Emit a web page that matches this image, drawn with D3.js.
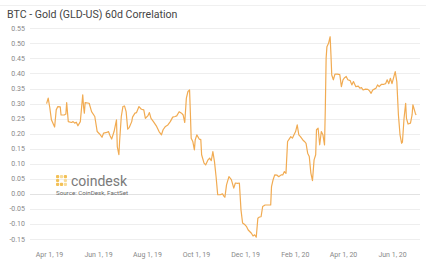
<!DOCTYPE html>
<html>
<head>
<meta charset="utf-8">
<script src="https://cdn.jsdelivr.net/npm/d3@7"></script>
<style>
  body { margin: 0; background: #fff; }
  text { font-family: Roboto, "Open Sans", sans-serif; }
</style>
</head>
<body>
<svg id="chart" width="426" height="259"></svg>
<script>
// 60 day correlation
var dates = [
  "2019-03-29","2019-03-31","2019-04-02","2019-04-04","2019-04-08","2019-04-10","2019-04-12","2019-04-15",
  "2019-04-16","2019-04-20","2019-04-22","2019-04-23","2019-04-25","2019-04-29","2019-05-01","2019-05-03",
  "2019-05-05","2019-05-07","2019-05-10","2019-05-13","2019-05-14","2019-05-15","2019-05-16","2019-05-21",
  "2019-05-24","2019-05-28","2019-05-31","2019-06-03","2019-06-06","2019-06-08","2019-06-12","2019-06-14",
  "2019-06-16","2019-06-18","2019-06-21","2019-06-24","2019-06-25","2019-06-27","2019-06-28","2019-06-30",
  "2019-07-02","2019-07-04","2019-07-06","2019-07-08","2019-07-10","2019-07-13","2019-07-14","2019-07-17",
  "2019-07-19","2019-07-22","2019-07-25","2019-07-28","2019-07-30","2019-08-02","2019-08-04","2019-08-06",
  "2019-08-09","2019-08-13","2019-08-16","2019-08-19","2019-08-21","2019-08-24","2019-08-27","2019-08-30",
  "2019-09-02","2019-09-05","2019-09-07","2019-09-10","2019-09-13","2019-09-15","2019-09-17","2019-09-19",
  "2019-09-21","2019-09-23","2019-09-24","2019-09-25","2019-09-27","2019-09-29","2019-09-30","2019-10-02",
  "2019-10-05","2019-10-07","2019-10-08","2019-10-11","2019-10-13","2019-10-16","2019-10-18","2019-10-20",
  "2019-10-22","2019-10-24","2019-10-26","2019-10-28","2019-10-31","2019-11-03","2019-11-05","2019-11-06",
  "2019-11-08","2019-11-11","2019-11-14","2019-11-17","2019-11-19","2019-11-22","2019-11-24","2019-11-26",
  "2019-11-28","2019-12-01","2019-12-03","2019-12-05","2019-12-09","2019-12-11","2019-12-13","2019-12-15",
  "2019-12-17","2019-12-19","2019-12-21","2019-12-23","2019-12-26","2019-12-30","2020-01-02","2020-01-03",
  "2020-01-05","2020-01-07","2020-01-10","2020-01-12","2020-01-15","2020-01-17","2020-01-19","2020-01-21",
  "2020-01-23","2020-01-25","2020-01-27","2020-01-29","2020-01-31","2020-02-02","2020-02-04","2020-02-06",
  "2020-02-08","2020-02-11","2020-02-13","2020-02-15","2020-02-17","2020-02-19","2020-02-21","2020-02-23",
  "2020-02-25","2020-02-27","2020-02-28","2020-03-01","2020-03-03","2020-03-05","2020-03-07","2020-03-09",
  "2020-03-10","2020-03-11","2020-03-12","2020-03-14","2020-03-16","2020-03-17","2020-03-18","2020-03-20",
  "2020-03-22","2020-03-25","2020-03-28","2020-03-30","2020-04-01","2020-04-03","2020-04-05","2020-04-07",
  "2020-04-10","2020-04-12","2020-04-14","2020-04-17","2020-04-20","2020-04-22","2020-04-24","2020-04-26",
  "2020-04-29","2020-05-02","2020-05-04","2020-05-06","2020-05-08","2020-05-10","2020-05-12","2020-05-14",
  "2020-05-16","2020-05-19","2020-05-22","2020-05-24","2020-05-26","2020-05-28","2020-05-30","2020-06-01",
  "2020-06-05","2020-06-07","2020-06-09","2020-06-11","2020-06-13","2020-06-14","2020-06-16","2020-06-18",
  "2020-06-19","2020-06-21","2020-06-24","2020-06-26","2020-06-27","2020-06-30","2020-07-01"
];
var corr = [
  0.300,0.318,0.286,0.246,0.222,0.279,0.290,0.289,
  0.262,0.262,0.265,0.303,0.240,0.237,0.240,0.235,
  0.238,0.226,0.240,0.329,0.290,0.268,0.303,0.301,
  0.273,0.257,0.207,0.199,0.188,0.202,0.204,0.207,
  0.193,0.182,0.207,0.246,0.157,0.130,0.179,0.257,
  0.290,0.292,0.273,0.215,0.221,0.240,0.255,0.268,
  0.270,0.290,0.281,0.279,0.251,0.259,0.270,0.251,
  0.240,0.224,0.207,0.196,0.213,0.224,0.229,0.240,
  0.255,0.257,0.259,0.273,0.268,0.262,0.237,0.318,
  0.340,0.345,0.268,0.185,0.174,0.146,0.179,0.196,
  0.182,0.180,0.130,0.102,0.096,0.113,0.119,0.110,
  0.140,0.107,0.057,-0.003,-0.003,0.000,-0.009,-0.011,
  0.030,0.057,0.047,0.019,0.036,0.035,0.036,-0.053,
  -0.097,-0.103,-0.109,-0.120,-0.131,-0.140,-0.136,-0.144,
  -0.081,-0.077,-0.076,-0.042,-0.037,-0.037,-0.037,0.024,
  0.047,0.063,0.062,0.057,0.063,0.063,0.074,0.068,
  0.174,0.182,0.190,0.185,0.196,0.207,0.229,0.196,
  0.190,0.179,0.174,0.168,0.135,0.124,0.069,0.044,
  0.113,0.130,0.213,0.218,0.163,0.207,0.196,0.163,
  0.285,0.451,0.489,0.500,0.522,0.462,0.395,0.379,
  0.398,0.398,0.396,0.356,0.379,0.386,0.390,0.379,
  0.376,0.362,0.373,0.356,0.358,0.351,0.353,0.345,
  0.348,0.347,0.342,0.334,0.345,0.348,0.351,0.362,
  0.356,0.364,0.364,0.366,0.379,0.366,0.384,0.366,
  0.406,0.373,0.262,0.196,0.168,0.172,0.251,0.301,
  0.251,0.232,0.235,0.262,0.296,0.268,0.262
];
var xTickDates = ["2019-04-01","2019-06-01","2019-08-01","2019-10-01","2019-12-01","2020-02-01","2020-04-01","2020-06-01"];
var yTicks = [-0.15,-0.10,-0.05,0.00,0.05,0.10,0.15,0.20,0.25,0.30,0.35,0.40,0.45,0.50,0.55];

var parse = d3.timeParse("%Y-%m-%d");
var data = dates.map(function(d, i) { return { date: parse(d), v: corr[i] }; });

var svg = d3.select("#chart");
var left = 30, right = 420;

var x = d3.scaleTime()
    .domain([parse("2019-04-01"), parse("2020-06-01")])
    .range([49, 392]);
var y = d3.scaleLinear().domain([-0.15, 0.55]).range([239, 28.3]);

// faint top rule
svg.append("line")
   .attr("x1", 0).attr("x2", 426).attr("y1", 5.5).attr("y2", 5.5)
   .attr("stroke", "#f0f0f0");

svg.append("text")
   .attr("x", 7).attr("y", 18)
   .attr("font-size", "10.6px")
   .attr("fill", "#444")
   .text("BTC - Gold (GLD-US) 60d Correlation");

// gridlines + y labels
var gy = svg.append("g");
gy.selectAll("line").data(yTicks).enter().append("line")
  .attr("x1", left).attr("x2", right)
  .attr("y1", function(d) { return Math.round(y(d)) + 0.5; })
  .attr("y2", function(d) { return Math.round(y(d)) + 0.5; })
  .attr("stroke", function(d) { return d === 0 ? "#e2e2e2" : "#eeeeee"; });
gy.selectAll("text").data(yTicks).enter().append("text")
  .attr("x", 25).attr("y", function(d) { return y(d) + 2.5; })
  .attr("text-anchor", "end")
  .attr("font-size", "7px")
  .attr("fill", "#888")
  .text(function(d) { return d.toFixed(2); });

// x axis labels
var xAxis = d3.axisBottom(x)
    .tickValues(xTickDates.map(parse))
    .tickFormat(d3.timeFormat("%b %-d, %y"))
    .tickSize(0)
    .tickPadding(0);
var gx = svg.append("g").attr("transform", "translate(0,252)").call(xAxis);
gx.select(".domain").remove();
gx.selectAll("text")
  .attr("font-size", "7px")
  .attr("fill", "#888")
  .attr("font-family", "Roboto, sans-serif");

// watermark
var wm = svg.append("g").attr("transform", "translate(56,175)");
var cells = [[0,0],[1,0],[2,0],[0,1],[2,1],[0,2],[1,2],[2,2]];
wm.selectAll("rect").data(cells).enter().append("rect")
  .attr("x", function(d) { return d[0] * 3.9; })
  .attr("y", function(d) { return d[1] * 3.9; })
  .attr("width", 3.2).attr("height", 3.2).attr("rx", 1)
  .attr("fill", function(d, i) { return (i % 3 === 1) ? "#f8dc9a" : "#f3c157"; });
wm.append("text")
  .attr("x", 15).attr("y", 10.5)
  .attr("font-size", "14px")
  .attr("fill", "#7a7a7a")
  .text("coindesk");
wm.append("text")
  .attr("x", 0).attr("y", 19.5)
  .attr("font-size", "6.2px")
  .attr("fill", "#666")
  .text("Source: CoinDesk, FactSet");

var line = d3.line()
    .x(function(d) { return x(d.date); })
    .y(function(d) { return y(d.v); });

svg.append("path")
   .datum(data)
   .attr("fill", "none")
   .attr("stroke", "#f1ab52")
   .attr("stroke-width", 1.2)
   .attr("stroke-linejoin", "round")
   .attr("d", line);
</script>
</body>
</html>
